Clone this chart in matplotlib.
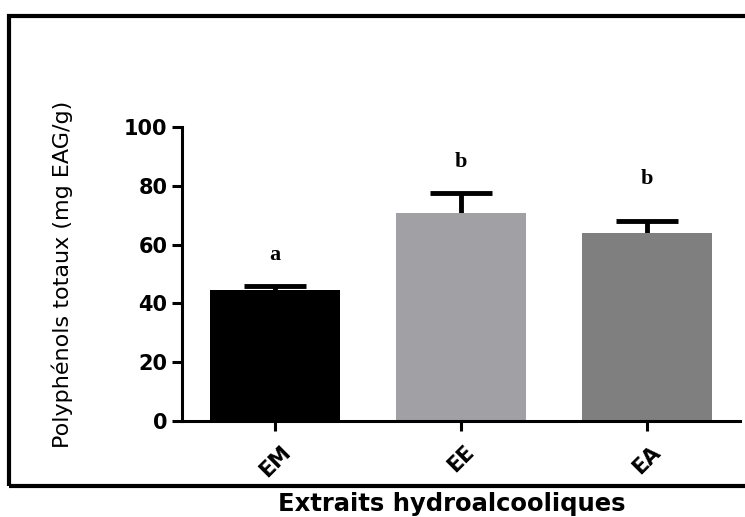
import matplotlib.pyplot as plt
from matplotlib.patches import Rectangle

extraits = ['EM', 'EE', 'EA']
moyennes = [44.6, 70.8, 64.0]
erreurs = [1.4, 6.6, 4.1]
lettres = ['a', 'b', 'b']
lettres_y = [53, 84.7, 79]
couleurs = ['#000000', '#a1a0a4', '#7f7f7f']

plt.rcParams['font.family'] = ['DejaVu Sans']

fig = plt.figure(figsize=(7.45, 5.17), dpi=100)
ax = fig.add_axes([0.2443, 0.1857, 0.749, 0.5687])

x = range(len(extraits))
ax.bar(x, moyennes, width=0.7, color=couleurs, zorder=2)
eb = ax.errorbar(x, moyennes, yerr=[[0] * 3, erreurs], fmt='none', ecolor='black',
                 elinewidth=3.5, capsize=22, capthick=3.5, zorder=1)
# seulement la barre supérieure (style GraphPad)
eb[1][0].set_visible(False)

for xi, l, ly in zip(x, lettres, lettres_y):
    ax.text(xi, ly, l, ha='center', va='bottom', fontsize=16, fontweight='bold',
            family=['Liberation Serif', 'DejaVu Serif'])

ax.set_xlim(-0.5, 2.5)
ax.set_ylim(0, 100)
ax.set_yticks([0, 20, 40, 60, 80, 100])
ax.set_xticks(list(x))
ax.set_xticklabels(extraits, rotation=45, ha='center', va='top', fontsize=15, fontweight='bold')
for lab in ax.get_yticklabels():
    lab.set_fontsize(15)
    lab.set_fontweight('bold')

for s in ['top', 'right']:
    ax.spines[s].set_visible(False)
for s in ['left', 'bottom']:
    ax.spines[s].set_linewidth(2.2)
ax.tick_params(axis='both', length=7, width=2.2, direction='out')
ax.tick_params(axis='x', pad=8)

ax.set_ylabel('Polyphénols totaux (mg EAG/g)', fontsize=16)
ax.yaxis.set_label_coords(-0.195, 0.5)

fig.text(0.607, 0.012, 'Extraits hydroalcooliques', ha='center', va='baseline',
         fontsize=17.5, fontweight='bold')

fig.patches.append(Rectangle((0.012, 0.06), 1.1, 0.91, transform=fig.transFigure,
                             fill=False, edgecolor='black', linewidth=3, clip_on=False))

fig.savefig('out.png', dpi=100)
